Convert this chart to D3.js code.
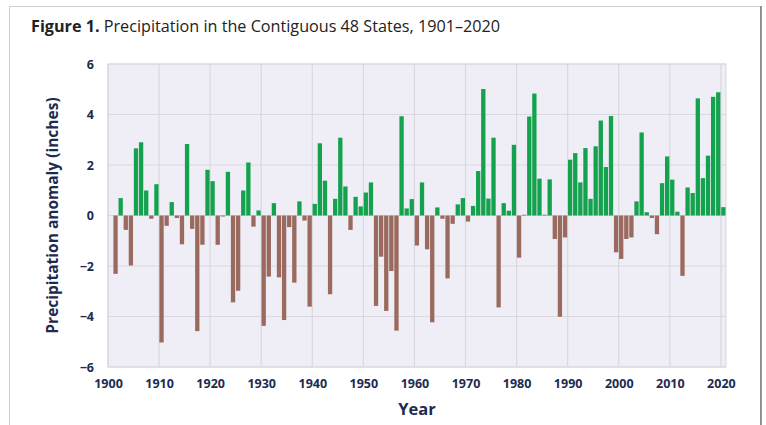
<!DOCTYPE html>
<html>
<head>
<meta charset="utf-8">
<script src="https://cdn.jsdelivr.net/npm/d3@7"></script>
<style>
    body { margin: 0; background: #fff; }
    svg { display: block; }
    text { font-family: "Open Sans", sans-serif; }
</style>
</head>
<body>
<svg id="chart" width="766" height="425"></svg>
<script>
// --- Data (annual precipitation anomaly, inches) ---
const firstYear = 1901;
const anomalies = [
    -2.31, 0.69, -0.57, -1.98, 2.66, 2.9, 0.99, -0.13, 1.24, -5.03,
    -0.41, 0.53, -0.1, -1.14, 2.83, -0.53, -4.58, -1.16, 1.81, 1.36,
    -1.16, -0.04, 1.73, -3.44, -2.98, 0.99, 2.1, -0.44, 0.2, -4.37,
    -2.42, 0.49, -2.45, -4.14, -0.46, -2.66, 0.56, -0.2, -3.61, 0.46,
    2.86, 1.38, -3.12, 0.66, 3.08, 1.15, -0.57, 0.74, 0.36, 0.91,
    1.31, -3.58, -1.63, -3.78, -2.2, -4.56, 3.93, 0.28, 0.65, -1.19,
    1.31, -1.34, -4.23, 0.32, -0.13, -2.49, -0.33, 0.44, 0.69, -0.24,
    0.38, 1.76, 5.01, 0.67, 3.08, -3.64, 0.49, 0.19, 2.8, -1.67,
    0.03, 3.92, 4.83, 1.46, 0.03, 1.43, -0.93, -4.01, -0.87, 2.21,
    2.47, 1.31, 2.67, 0.66, 2.74, 3.76, 1.92, 3.94, -1.46, -1.72,
    -0.93, -0.87, 0.56, 3.29, 0.13, -0.1, -0.74, 1.28, 2.34, 1.42,
    0.15, -2.39, 1.11, 0.89, 4.64, 1.48, 2.37, 4.7, 4.88, 0.33
];
const years = anomalies.map((d, i) => firstYear + i);
const xTicks = [1900, 1910, 1920, 1930, 1940, 1950, 1960, 1970, 1980, 1990, 2000, 2010, 2020];
const yTicks = [-6, -4, -2, 0, 2, 4, 6];

const navy = "#1d2b50";
const green = "#14a24e";
const brown = "#9a6a5e";

const svg = d3.select("#chart");

// outer frame
svg.append("rect")
    .attr("x", 9.5).attr("y", 6.5)
    .attr("width", 751).attr("height", 440)
    .attr("fill", "#fff")
    .attr("stroke", "#cfcfcf");
svg.append("line")
    .attr("x1", 761).attr("x2", 761)
    .attr("y1", 6).attr("y2", 425)
    .attr("stroke", "#777").attr("stroke-width", 1.5);

// title
const title = svg.append("text")
    .attr("x", 31).attr("y", 32)
    .attr("font-size", 16)
    .attr("fill", "#222")
    .attr("textLength", 469)
    .attr("lengthAdjust", "spacingAndGlyphs");
title.append("tspan").attr("font-weight", 700).text("Figure 1.");
title.append("tspan").text(" Precipitation in the Contiguous 48 States, 1901\u20132020");

// --- Scales ---
const x = d3.scaleLinear().domain([1900, 2021]).range([108, 726]);
const y = d3.scaleLinear().domain([-6, 6]).range([367, 64]);

// plot background
svg.append("rect")
    .attr("x", x(1900)).attr("y", y(6))
    .attr("width", x(2021) - x(1900)).attr("height", y(-6) - y(6))
    .attr("fill", "#efeef6")
    .attr("stroke", "#d9d8de");

// gridlines
svg.append("g")
    .selectAll("line")
    .data(xTicks)
    .join("line")
    .attr("x1", (d) => x(d)).attr("x2", (d) => x(d))
    .attr("y1", y(6)).attr("y2", y(-6))
    .attr("stroke", "#d9d8de").attr("stroke-width", 1.2);

svg.append("g")
    .selectAll("line")
    .data(yTicks)
    .join("line")
    .attr("x1", x(1900)).attr("x2", x(2021))
    .attr("y1", (d) => y(d)).attr("y2", (d) => y(d))
    .attr("stroke", "#d9d8de").attr("stroke-width", 1.2);

// bars
const slot = x(1901) - x(1900);
svg.append("g")
    .selectAll("rect")
    .data(anomalies)
    .join("rect")
    .attr("x", (d, i) => x(years[i]) + 0.3)
    .attr("width", slot - 0.8)
    .attr("y", (d) => y(Math.max(0, d)))
    .attr("height", (d) => Math.abs(y(d) - y(0)))
    .attr("fill", (d) => (d >= 0 ? green : brown));

// --- Axes ---
const xAxis = svg.append("g")
    .attr("transform", `translate(0,${y(-6)})`)
    .call(d3.axisBottom(x).tickValues(xTicks).tickFormat(d3.format("d")).tickSize(0).tickPadding(12));
const yAxis = svg.append("g")
    .attr("transform", `translate(${x(1900)},0)`)
    .call(d3.axisLeft(y).tickValues(yTicks).tickSize(0).tickPadding(14));

[xAxis, yAxis].forEach((a) => {
    a.select(".domain").remove();
    a.selectAll("text")
        .attr("font-family", "'Open Sans', sans-serif")
        .attr("font-size", 12.5)
        .attr("font-weight", 700)
        .attr("fill", navy);
});

// axis titles
svg.append("text")
    .attr("x", (x(1900) + x(2021)) / 2)
    .attr("y", 415)
    .attr("text-anchor", "middle")
    .attr("font-size", 16.5)
    .attr("font-weight", 700)
    .attr("fill", navy)
    .text("Year");

svg.append("text")
    .attr("transform", `translate(58,${y(0)}) rotate(-90)`)
    .attr("text-anchor", "middle")
    .attr("font-size", 15.5)
    .attr("font-weight", 700)
    .attr("fill", navy)
    .text("Precipitation anomaly (inches)");
</script>
</body>
</html>
